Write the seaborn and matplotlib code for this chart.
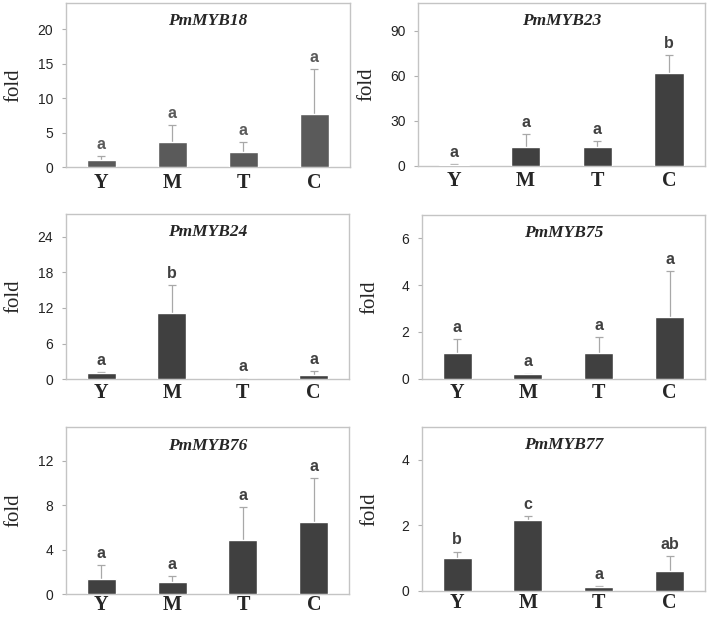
import numpy as np
import matplotlib
matplotlib.use("Agg")
import matplotlib.pyplot as plt
import pandas as pd
import seaborn as sns

sns.set_style("white")
plt.rcParams['font.family'] = ['Liberation Sans', 'DejaVu Sans']

stages = ["Y", "M", "T", "C"]
genes = ["PmMYB18", "PmMYB23", "PmMYB24", "PmMYB75", "PmMYB76", "PmMYB77"]

# mean fold change per stage
mean18 = [1.05, 3.6, 2.15, 7.75]
mean23 = [0.7, 12.3, 12.3, 62.1]
mean24 = [1.0, 11.2, 0.05, 0.73]
mean75 = [1.08, 0.19, 1.08, 2.62]
mean76 = [1.35, 1.05, 4.84, 6.5]
mean77 = [1.0, 2.15, 0.11, 0.6]

# upper error (sd)
sd18 = [0.55, 2.5, 1.45, 6.55]
sd23 = [0.3, 8.7, 4.0, 11.6]
sd24 = [0.15, 4.6, 0.07, 0.67]
sd75 = [0.6, 0.03, 0.71, 1.98]
sd76 = [1.25, 0.55, 2.96, 3.9]
sd77 = [0.2, 0.14, 0.05, 0.47]

# significance letters
let18 = ["a", "a", "a", "a"]
let23 = ["a", "a", "a", "b"]
let24 = ["a", "b", "a", "a"]
let75 = ["a", "a", "a", "a"]
let76 = ["a", "a", "a", "a"]
let77 = ["b", "c", "a", "ab"]

yticks = [[0, 5, 10, 15, 20], [0, 30, 60, 90], [0, 6, 12, 18, 24],
          [0, 2, 4, 6], [0, 4, 8, 12], [0, 2, 4]]
ytop = [23.8, 108.5, 27.8, 7.0, 15.0, 5.0]

means = [mean18, mean23, mean24, mean75, mean76, mean77]
sds = [sd18, sd23, sd24, sd75, sd76, sd77]
letters = [let18, let23, let24, let75, let76, let77]

W, H = 709, 619
fig = plt.figure(figsize=(W / 100, H / 100), dpi=100)

# axes rectangles in pixels: left, top, right, bottom
boxes = [(65.7, 3.3, 350, 167.3), (418, 3.3, 705, 165.7),
         (65.7, 214, 349, 379.3), (421.7, 215, 705, 378.7),
         (65.7, 427.3, 349.3, 594), (421.7, 426.7, 705, 591)]
xpads = [4, 4, 3, 3, 1, 1.5]

for i, gene in enumerate(genes):
    l, t, r, b = boxes[i]
    ax = fig.add_axes([l / W, 1 - b / H, (r - l) / W, (b - t) / H])
    col = "#5a5a5a" if i == 0 else "#404040"
    df = pd.DataFrame({"stage": stages, "fold": means[i]})
    sns.barplot(data=df, x="stage", y="fold", color=col, width=0.41,
                saturation=1, ax=ax, errorbar=None, zorder=3)
    xs = [p.get_x() + p.get_width() / 2 for p in ax.patches]
    eb = ax.errorbar(xs, means[i], yerr=[np.zeros(4), sds[i]], fmt="none",
                     ecolor="#a8a8a8", elinewidth=0.9, capsize=3,
                     capthick=0.9, zorder=2)
    eb[1][0].set_visible(False)  # no cap at the bar top
    for x, m, s, lt in zip(xs, means[i], sds[i], letters[i]):
        ax.annotate(lt, (x, m + s), xytext=(0, 3), textcoords="offset points",
                    ha="center", va="bottom", fontsize=11.5, fontweight="bold",
                    color=col)
    ax.set_xlim(-0.5, 3.5)
    ax.set_ylim(0, ytop[i])
    ax.set_yticks(yticks[i])
    ax.set_xlabel("")
    ax.set_ylabel("fold", family=["Liberation Serif"], fontsize=15)
    ax.yaxis.set_label_coords(-42 / (r - l), 0.5)
    ax.text(0.5, 0.89, gene, transform=ax.transAxes, ha="center", va="center",
            family=["Liberation Serif"], fontsize=12.5, fontweight="bold",
            style="italic")
    for sp in ax.spines.values():
        sp.set_visible(True)
        sp.set_color("#c4c4c4")
        sp.set_linewidth(1.0)
    ax.tick_params(axis="y", length=3, width=0.8, color="#b0b0b0", pad=6,
                   labelsize=10, left=True, labelcolor="#222222")
    ax.tick_params(axis="x", length=0, pad=xpads[i])
    for lab in ax.get_xticklabels():
        lab.set_family(["Liberation Serif"])
        lab.set_fontsize(14.5)
        lab.set_fontweight("bold")

fig.savefig("out.png", dpi=100)
